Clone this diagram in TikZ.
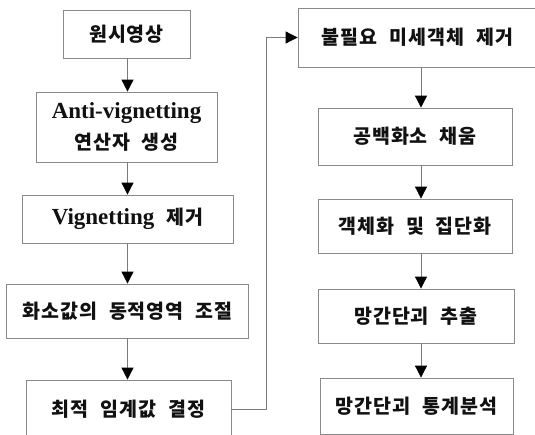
\documentclass[tikz,border=0pt]{standalone}
\usepackage{fontspec}
\usepackage{tikz}
\usetikzlibrary{arrows.meta,calc,positioning}
\setmainfont{Liberation Serif}
\newfontfamily\kr[WordSpace=2.2,LetterSpace=5]{Noto Sans CJK KR}
\definecolor{Ink}{HTML}{111111}
\definecolor{Frame}{HTML}{8A8A8A}
\definecolor{Wire}{HTML}{7A7A7A}

\begin{document}
\begin{tikzpicture}[x=1pt,y=-1pt,>=Latex,
    stage/.style={draw=Frame,line width=0.8pt,fill=white,text=Ink,
      align=center,inner sep=0pt,font=\fontsize{19.5}{31}\selectfont\bfseries\kr},
    flow/.style={Wire,line width=0.8pt,-{Triangle[width=12pt,length=12pt,fill=black,color=black]}}]
  \useasboundingbox (0,0) rectangle (535,434);
  \clip (0,0) rectangle (535,434);
  \fill[white] (0,0) rectangle (535,434);
  % left column
  \node[stage,minimum width=127pt,minimum height=48pt] (raw) at (126.5,34) {원시영상};
  \node[stage,minimum width=181pt,minimum height=70pt] (operator) at (126.5,127)
    {{\fontsize{23}{31}\selectfont\rmfamily Anti-vignetting}\\연산자 생성};
  \node[stage,minimum width=211pt,minimum height=48pt] (vignette) at (127.5,219)
    {{\fontsize{23}{31}\selectfont\rmfamily Vignetting} 제거};
  \node[stage,minimum width=242pt,minimum height=54pt] (range) at (127.5,311) {화소값의 동적영역 조절};
  \node[stage,minimum width=205pt,minimum height=58pt] (optimum) at (128.5,409) {최적 임계값 결정};
  % right column
  \node[stage,minimum width=239pt,minimum height=59pt] (removal) at (417.5,37.5) {불필요 미세객체 제거};
  \node[stage,minimum width=194pt,minimum height=57pt] (fill) at (415,136.5) {공백화소 채움};
  \node[stage,minimum width=194pt,minimum height=54pt] (group) at (415,226) {객체화 및 집단화};
  \node[stage,minimum width=196pt,minimum height=54pt] (extract) at (416,316) {망간단괴 추출};
  \node[stage,minimum width=193pt,minimum height=56pt] (stats) at (416.5,406) {망간단괴 통계분석};
  \coordinate (lcol) at (127.5,0);
  \coordinate (bend) at (266,0);
  \coordinate (col) at (421,0);
  \draw[flow] (raw.south -| lcol) -- (operator.north -| lcol);
  \draw[flow] (operator.south -| lcol) -- (vignette.north -| lcol);
  \draw[flow] (vignette.south -| lcol) -- (range.north -| lcol);
  \draw[flow] (range.south -| lcol) -- (optimum.north -| lcol);
  \draw[flow] (optimum.east) -| (bend |- removal.west) -- (removal.west);
  \draw[flow] (removal.south -| col) -- (fill.north -| col);
  \draw[flow] (fill.south -| col) -- (group.north -| col);
  \draw[flow] (group.south -| col) -- (extract.north -| col);
  \draw[flow] (extract.south -| col) -- (stats.north -| col);
\end{tikzpicture}
\end{document}
